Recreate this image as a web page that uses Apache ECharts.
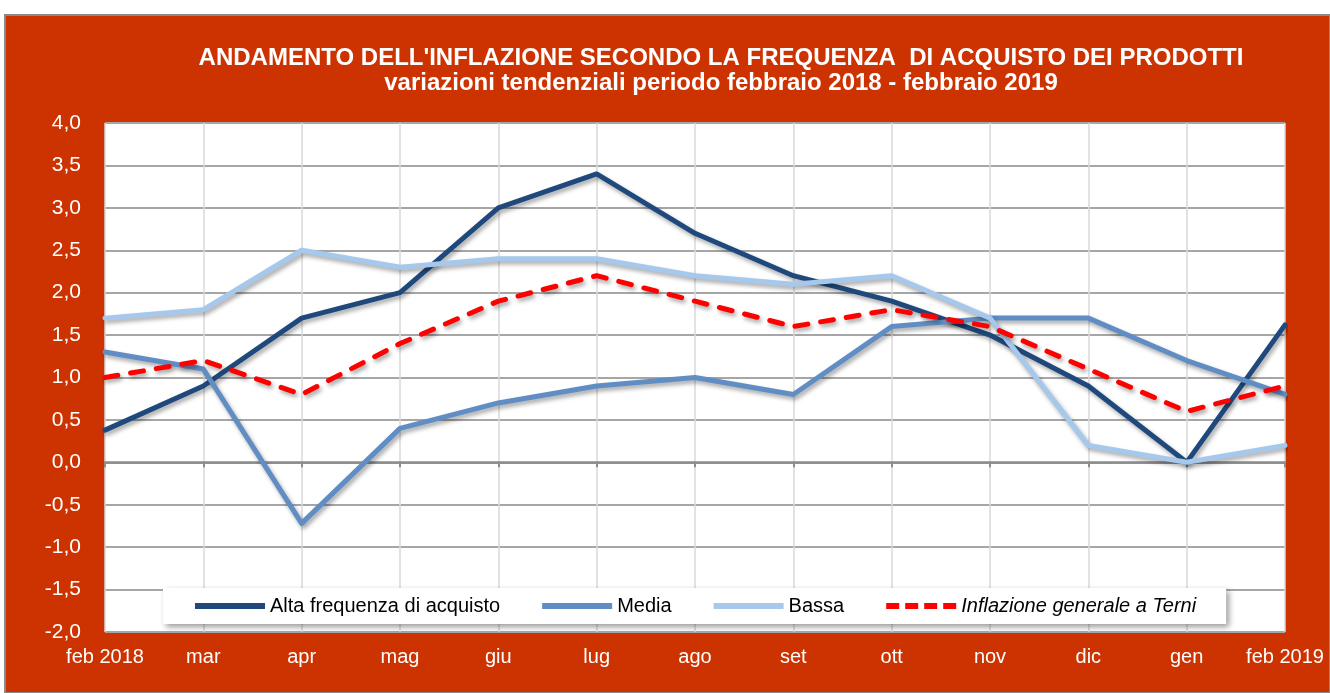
<!DOCTYPE html>
<html><head><meta charset="utf-8">
<script src="https://cdn.jsdelivr.net/npm/echarts@6/dist/echarts.min.js"></script>
<style>html,body{margin:0;padding:0;background:#fff}#c{width:1330px;height:693px}</style>
</head><body><div id="c"></div>
<script>
const categories = ['feb 2018','mar','apr','mag','giu','lug','ago','set','ott','nov','dic','gen','feb 2019'];
const alta = [0.38,0.9,1.7,2.0,3.0,3.4,2.7,2.2,1.9,1.5,0.9,0.0,1.62];
const media = [1.3,1.1,-0.72,0.4,0.7,0.9,1.0,0.8,1.6,1.7,1.7,1.2,0.8];
const bassa = [1.7,1.8,2.5,2.3,2.4,2.4,2.2,2.1,2.2,1.7,0.2,0.0,0.2];
const inflazione = [1.0,1.2,0.8,1.4,1.9,2.2,1.9,1.6,1.8,1.6,1.1,0.6,0.9];
const seriesNames = ['Alta frequenza di acquisto','Media','Bassa','Inflazione generale a Terni'];

const FONT = 'Arial, Liberation Sans, sans-serif';
const chart = echarts.init(document.getElementById('c'));
const shadow = {shadowColor:'rgba(0,0,0,0.35)', shadowBlur:4, shadowOffsetX:2, shadowOffsetY:3};
function ser(name, data, color, extra) {
  return Object.assign({
    name, type:'line', data, symbol:'none', smooth:false, z:3,
    lineStyle:Object.assign({color, width:5, cap:'round', join:'round'}, shadow),
    itemStyle:{color}
  }, extra||{});
}
const dashIcon = 'path://M0,0h13v6h-13z M19,0h13v6h-13z M38,0h13v6h-13z M57,0h13v6h-13z';
chart.setOption({
  backgroundColor:'#fff',
  graphic:[
    {type:'rect', shape:{x:5,y:15,width:1325,height:678}, style:{fill:'#CC3300', stroke:'#8a8a8a', lineWidth:2}, z:-10, silent:true}
  ],
  title:{
    text:"ANDAMENTO DELL'INFLAZIONE SECONDO LA FREQUENZA  DI ACQUISTO DEI PRODOTTI",
    subtext:'variazioni tendenziali periodo febbraio 2018 - febbraio 2019',
    left:716, textAlign:'center', top:41, itemGap:1,
    textStyle:{color:'#fff', fontFamily:FONT, fontWeight:'bold', fontSize:24},
    subtextStyle:{color:'#fff', fontFamily:FONT, fontWeight:'bold', fontSize:24}
  },
  grid:{left:105, right:45, top:123, bottom:61, show:true, backgroundColor:'#fff', borderWidth:0},
  legend:{
    data:[
      {name:seriesNames[0], icon:'rect'},
      {name:seriesNames[1], icon:'rect'},
      {name:seriesNames[2], icon:'rect'},
      {name:seriesNames[3], icon:dashIcon, textStyle:{fontStyle:'italic'}}
    ],
    left:163, top:588,
    padding:[8,30,8,32], itemGap:42, itemWidth:70, itemHeight:6,
    backgroundColor:'#fff', shadowColor:'rgba(0,0,0,0.4)', shadowBlur:6, shadowOffsetX:3, shadowOffsetY:3,
    textStyle:{color:'#000', fontFamily:FONT, fontSize:20}
  },
  xAxis:{
    type:'category', data:categories, boundaryGap:false,
    axisLine:{show:true, onZero:true, lineStyle:{color:'#8c8c8c', width:2.5}},
    axisTick:{show:true, length:5, inside:false, lineStyle:{color:'#8c8c8c', width:2}},
    axisLabel:{color:'#fff', fontFamily:FONT, fontSize:20, margin:15,
      interval:0, showMinLabel:true, showMaxLabel:true},
    splitLine:{show:true, lineStyle:{color:'#d9d9d9', width:1.5}}
  },
  yAxis:{
    type:'value', min:-2, max:4, interval:0.5,
    axisLine:{show:false}, axisTick:{show:false},
    axisLabel:{color:'#fff', fontFamily:FONT, fontSize:21, margin:24,
      formatter:v=>v.toFixed(1).replace('.',',')},
    splitLine:{lineStyle:{color:'#a6a6a6', width:2}}
  },
  series:[
    ser(seriesNames[0], alta, '#1F497D'),
    ser(seriesNames[1], media, '#5F8DC4'),
    ser(seriesNames[2], bassa, '#A6C8EC'),
    ser(seriesNames[3], inflazione, '#FF0000', {lineStyle:Object.assign({color:'#FF0000', width:5, type:[13,13], cap:'round'}, shadow), z:4})
  ]
});
</script></body></html>
